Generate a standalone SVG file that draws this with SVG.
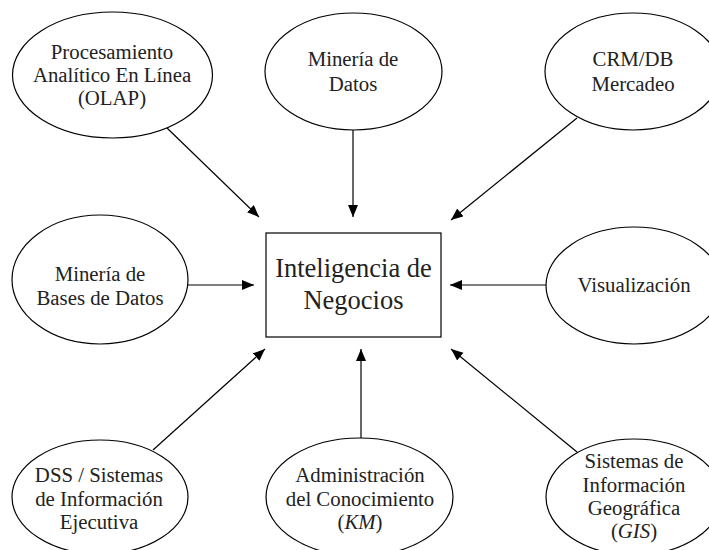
<svg xmlns="http://www.w3.org/2000/svg" width="709" height="550" viewBox="0 0 709 550">
<defs>
<style>
.n{fill:#fff;stroke:#000;stroke-width:1.2}
.t{font-family:"Liberation Serif","Times New Roman",serif;font-size:20.8px;fill:#222;text-anchor:middle}
.big{font-size:26.5px}
.c{stroke:#000;stroke-width:1.2;fill:none;marker-end:url(#ah)}
</style>
<marker id="ah" markerUnits="userSpaceOnUse" markerWidth="13" markerHeight="11" refX="12" refY="5" orient="auto">
<path d="M0,0 L12,5 L0,10 z" fill="#000"/>
</marker>
</defs>
<rect width="709" height="550" fill="#fff"/>
<g id="connectors">
<line class="c" x1="167" y1="128" x2="259" y2="217"/>
<line class="c" x1="353" y1="130" x2="353" y2="217"/>
<line class="c" x1="577" y1="118" x2="451" y2="220"/>
<line class="c" x1="188" y1="285" x2="254" y2="285"/>
<line class="c" x1="546" y1="285" x2="450" y2="285"/>
<line class="c" x1="153" y1="450" x2="265" y2="349"/>
<line class="c" x1="361" y1="438" x2="361" y2="349"/>
<line class="c" x1="577" y1="452" x2="451" y2="349"/>
</g>
<g id="bi">
<rect class="n" x="266" y="233" width="175" height="104"/>
<text class="t big" x="353.5" y="277">Inteligencia de</text>
<text class="t big" x="353.5" y="309">Negocios</text>
</g>
<g id="olap">
<ellipse class="n" cx="112.5" cy="75" rx="100" ry="63"/>
<text class="t" x="112" y="59">Procesamiento</text>
<text class="t" x="112" y="82">Analítico En Línea</text>
<text class="t" x="112" y="105">(OLAP)</text>
</g>
<g id="mineria-datos">
<ellipse class="n" cx="353.5" cy="71.5" rx="88.5" ry="58.5"/>
<text class="t" x="353" y="66">Minería de</text>
<text class="t" x="353" y="91">Datos</text>
</g>
<g id="crm">
<ellipse class="n" cx="633" cy="71.5" rx="88" ry="58.5"/>
<text class="t" x="633" y="66">CRM/DB</text>
<text class="t" x="633" y="91">Mercadeo</text>
</g>
<g id="mineria-bases">
<ellipse class="n" cx="100" cy="279.5" rx="88" ry="64.5"/>
<text class="t" x="100" y="281">Minería de</text>
<text class="t" x="100" y="305">Bases de Datos</text>
</g>
<g id="visualizacion">
<ellipse class="n" cx="634" cy="285.5" rx="88" ry="58.5"/>
<text class="t" x="634" y="292">Visualización</text>
</g>
<g id="dss">
<ellipse class="n" cx="100" cy="497" rx="88" ry="57"/>
<text class="t" x="99" y="482">DSS / Sistemas</text>
<text class="t" x="99" y="506">de Información</text>
<text class="t" x="99" y="529">Ejecutiva</text>
</g>
<g id="km">
<ellipse class="n" cx="359.5" cy="497" rx="93.5" ry="59"/>
<text class="t" x="360" y="482">Administración</text>
<text class="t" x="360" y="506">del Conocimiento</text>
<text class="t" x="360" y="529">(<tspan font-style="italic">KM</tspan>)</text>
</g>
<g id="gis">
<ellipse class="n" cx="634" cy="497" rx="88" ry="58"/>
<text class="t" x="634" y="468">Sistemas de</text>
<text class="t" x="634" y="492">Información</text>
<text class="t" x="634" y="515">Geográfica</text>
<text class="t" x="634" y="538">(<tspan font-style="italic">GIS</tspan>)</text>
</g>
</svg>
